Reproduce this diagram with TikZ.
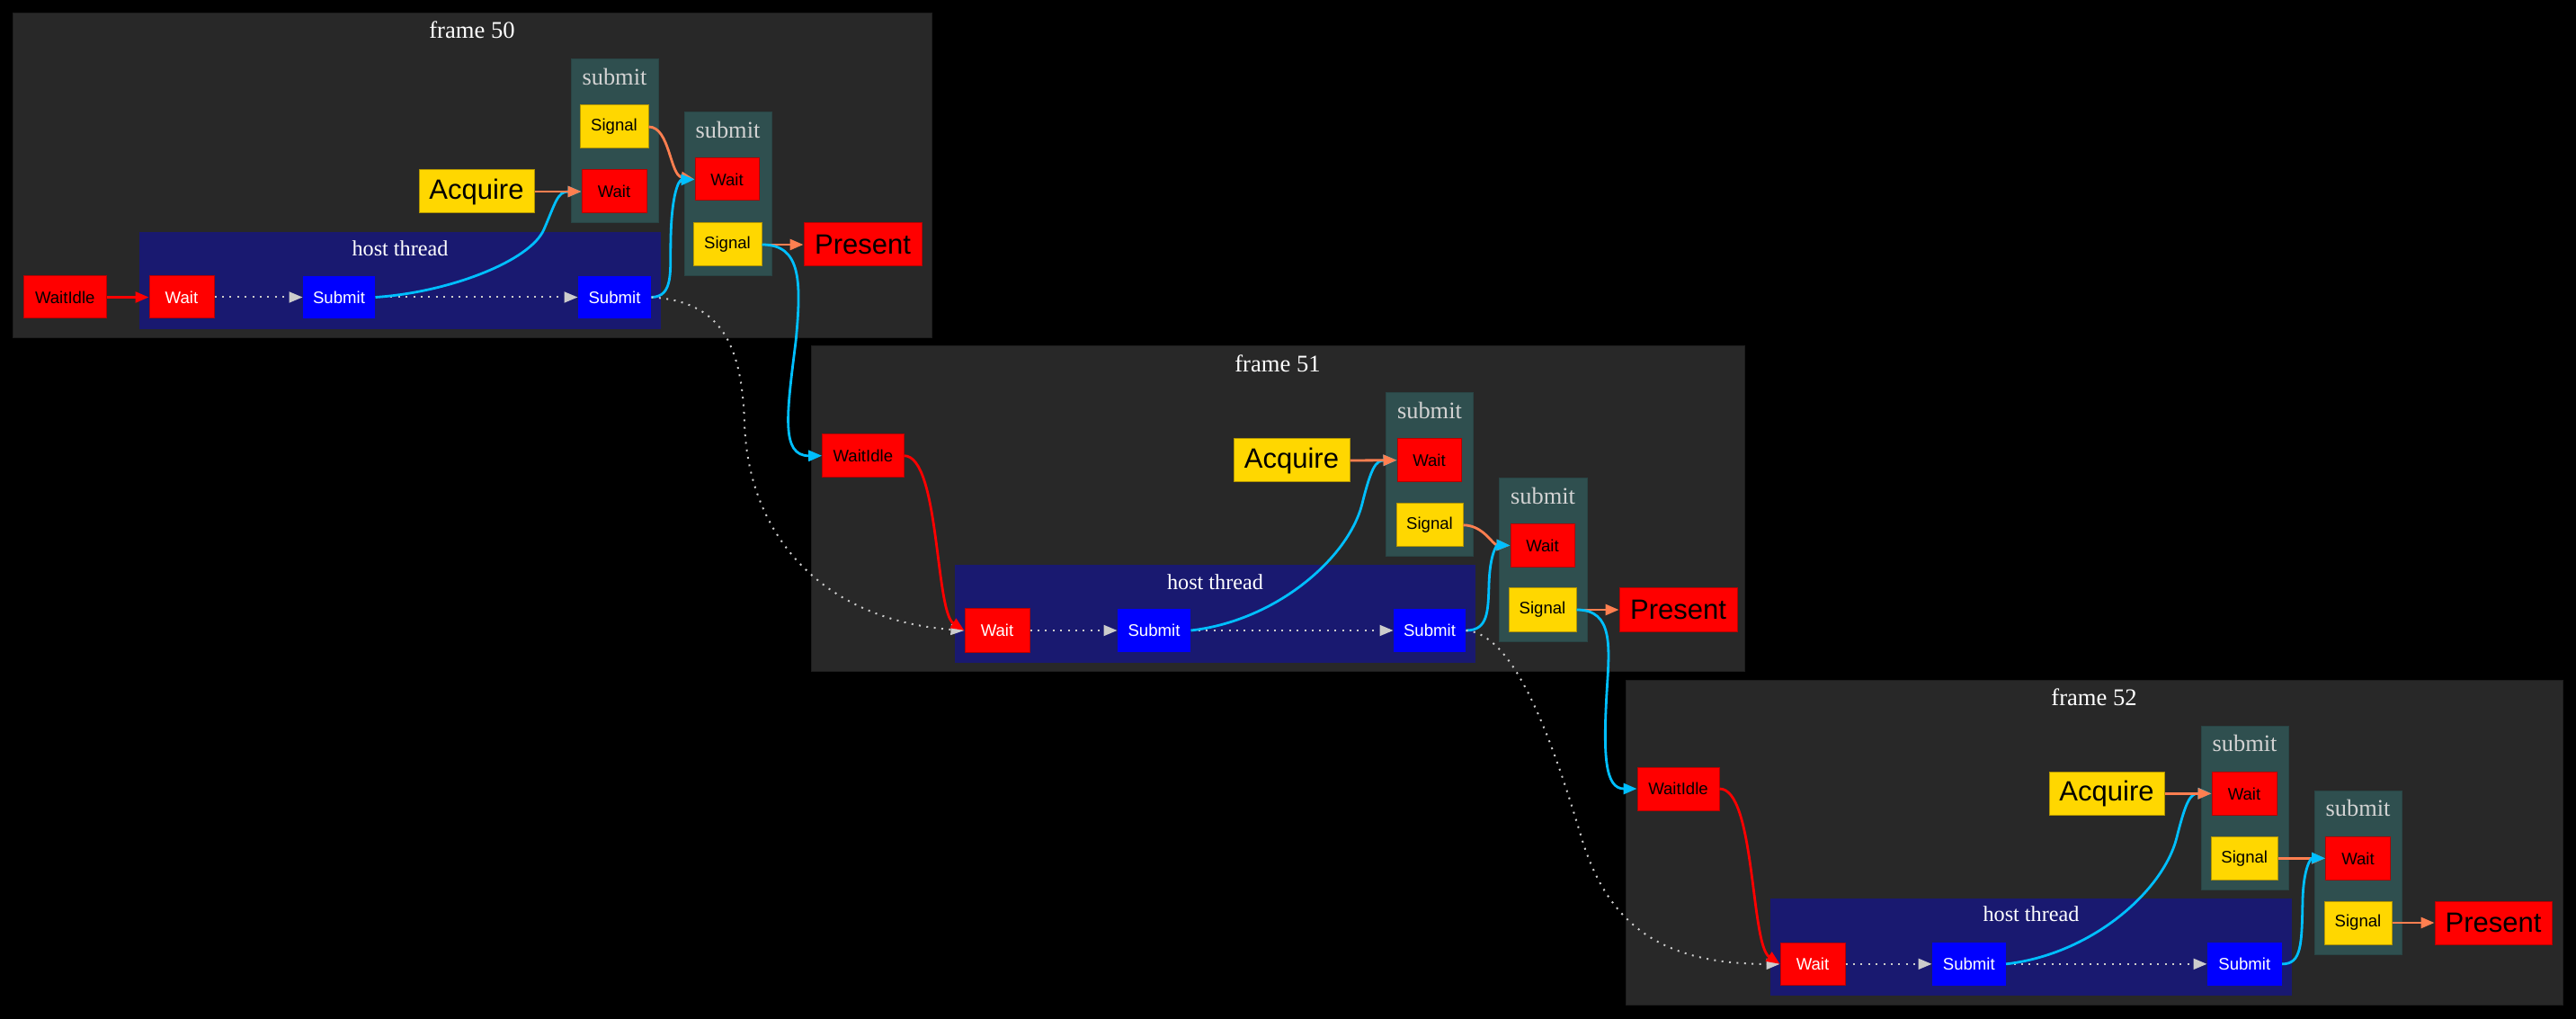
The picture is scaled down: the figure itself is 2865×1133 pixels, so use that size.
\documentclass[tikz,border=0pt]{standalone}
\usepackage{fontspec}
\setmainfont{Liberation Serif}
\newfontfamily\arialf{Liberation Sans}
\usetikzlibrary{arrows.meta}
\definecolor{framefill}{HTML}{282828}
\definecolor{frameline}{HTML}{1E1E1E}
\definecolor{subfill}{HTML}{2F4F4F}
\definecolor{subline}{HTML}{294545}
\definecolor{hostfill}{HTML}{191970}
\definecolor{redfill}{HTML}{FF0000}
\definecolor{redline}{HTML}{B80000}
\definecolor{goldfill}{HTML}{FFD700}
\definecolor{goldline}{HTML}{B39500}
\definecolor{bluefill}{HTML}{0000FF}
\definecolor{coralc}{HTML}{FF7F50}
\definecolor{cyanc}{HTML}{00BFFF}
\definecolor{dotc}{HTML}{CCCCCC}
\definecolor{sublabel}{HTML}{D3D3D3}
\tikzset{
  box/.style={rectangle, inner sep=0pt, line width=0.5pt},
  redbox/.style={box, fill=redfill, draw=redline, text=black, font=\arialf\fontsize{9.3pt}{11pt}\selectfont},
  redwbox/.style={redbox, text=white},
  bigred/.style={redbox, font=\arialf\fontsize{15.5pt}{18pt}\selectfont},
  goldbox/.style={box, fill=goldfill, draw=goldline, text=black, font=\arialf\fontsize{9.3pt}{11pt}\selectfont},
  biggold/.style={goldbox, font=\arialf\fontsize{15.5pt}{18pt}\selectfont},
  bluebox/.style={box, fill=bluefill, text=white, font=\arialf\fontsize{9.3pt}{11pt}\selectfont},
  framebg/.style={fill=framefill, draw=frameline, line width=0.5pt},
  subbg/.style={fill=subfill, draw=subline, line width=0.5pt},
  hostbg/.style={fill=hostfill},
  framelabel/.style={text=white, inner sep=0pt, font=\fontsize{13.3pt}{16pt}\selectfont},
  sublab/.style={text=sublabel, inner sep=0pt, font=\fontsize{13.2pt}{16pt}\selectfont},
  hostlab/.style={text=white, inner sep=0pt, font=\fontsize{12.1pt}{15pt}\selectfont},
  tip/.style={-{Triangle[length=7.5pt,width=6pt]}},
  coralarrow/.style={tip, draw=coralc, line width=1.4pt},
  cyanarrow/.style={tip, draw=cyanc, line width=1.4pt},
  redarrow/.style={tip, draw=redfill, line width=1.4pt},
  dotarrow/.style={tip, draw=dotc, line width=1pt, dash pattern=on 1pt off 3.2pt},
}
\newcommand\bx[7]{\node[#6, minimum width={(#4-#2)*0.5pt}, minimum height={(#5-#3)*0.5pt}] (#1) at ({(#2+#4)/2},{(#3+#5)/2}) {#7};}
\begin{document}
\begin{tikzpicture}[x=0.5pt,y=-0.5pt]
\useasboundingbox (0,0) rectangle (2865,1133);
\fill[black] (0,0) rectangle (2865,1133);

% ---------------- frame 50 ----------------
\path[framebg] (14.6,15) rectangle (1036,376);
\node[framelabel] (t50) at (525,33) {frame 50};
\path[subbg] (635,66) rectangle (732,248);
\node[sublab] (sl50a) at (683.5,85) {submit};
\path[subbg] (761,125) rectangle (858,307);
\node[sublab] (sl50b) at (809.5,144) {submit};
\path[hostbg] (155,258) rectangle (735,366);
\node[hostlab] (hl50) at (445,276.5) {host thread};

\bx{wi50}{26.5}{307}{118}{354}{redbox}{WaitIdle}
\bx{w50h}{166}{307}{238}{354}{redwbox}{Wait}
\bx{s50a}{337}{307}{417}{354}{bluebox}{Submit}
\bx{s50b}{643}{307}{724}{354}{bluebox}{Submit}
\bx{acq50}{466}{189}{594}{237}{biggold}{Acquire}
\bx{sig50a}{645}{117}{721}{165}{goldbox}{Signal}
\bx{w50a}{647}{189}{719}{237}{redbox}{Wait}
\bx{w50b}{773}{176}{844}{223}{redbox}{Wait}
\bx{sig50b}{771}{248}{847}{296}{goldbox}{Signal}
\bx{p50}{894}{248}{1025}{296}{bigred}{Present}

% ---------------- frame 51 ----------------
\path[framebg] (902,385) rectangle (1940,746);
\node[framelabel] (t51) at (1421,404) {frame 51};
\path[subbg] (1541.6,436.7) rectangle (1638.8,619);
\node[sublab] (sl51a) at (1590,456) {submit};
\path[subbg] (1667,531.7) rectangle (1765,713);
\node[sublab] (sl51b) at (1716,551) {submit};
\path[hostbg] (1062,628) rectangle (1641,737);
\node[hostlab] (hl51) at (1351.5,647) {host thread};

\bx{wi51}{914.7}{482.7}{1005}{530.7}{redbox}{WaitIdle}
\bx{w51h}{1073}{677}{1145}{725}{redwbox}{Wait}
\bx{s51a}{1243}{677}{1324}{725}{bluebox}{Submit}
\bx{s51b}{1550}{677}{1630}{725}{bluebox}{Submit}
\bx{acq51}{1372}{488}{1501}{536}{biggold}{Acquire}
\bx{w51a}{1554}{487.7}{1625}{535.7}{redbox}{Wait}
\bx{sig51a}{1553}{560}{1627}{607.7}{goldbox}{Signal}
\bx{w51b}{1680}{582.7}{1751}{630.3}{redbox}{Wait}
\bx{sig51b}{1678}{654}{1753}{702}{goldbox}{Signal}
\bx{p51}{1801}{654}{1932}{702}{bigred}{Present}

% ---------------- frame 52 ----------------
\path[framebg] (1808.8,756.7) rectangle (2850,1117.7);
\node[framelabel] (t52) at (2329,775) {frame 52};
\path[subbg] (2448,807) rectangle (2545,989);
\node[sublab] (sl52a) at (2496.5,826.7) {submit};
\path[subbg] (2574,879) rectangle (2671,1061.7);
\node[sublab] (sl52b) at (2622.5,898) {submit};
\path[hostbg] (1969,999) rectangle (2548.5,1107);
\node[hostlab] (hl52) at (2259,1016.7) {host thread};

\bx{wi52}{1821}{853}{1912}{901}{redbox}{WaitIdle}
\bx{w52h}{1980}{1048}{2052}{1095.7}{redwbox}{Wait}
\bx{s52a}{2149}{1048}{2230.6}{1095.7}{bluebox}{Submit}
\bx{s52b}{2455}{1048}{2537.6}{1095.7}{bluebox}{Submit}
\bx{acq52}{2279}{858}{2407}{906.7}{biggold}{Acquire}
\bx{w52a}{2460}{858}{2532}{906.7}{redbox}{Wait}
\bx{sig52a}{2459}{930.7}{2533.5}{978}{goldbox}{Signal}
\bx{w52b}{2586.5}{930.7}{2658.5}{978}{redbox}{Wait}
\bx{sig52b}{2585}{1002}{2660}{1050}{goldbox}{Signal}
\bx{p52}{2708}{1002}{2838}{1050}{bigred}{Present}

% ---------------- edges frame 50 ----------------
\draw[redarrow] (wi50.east) -- (w50h.west);
\draw[dotarrow] (w50h.east) -- (s50a.west);
\draw[dotarrow] (s50a.east) -- (s50b.west);
\draw[cyanarrow] (s50a.east) .. controls (500,325) and (590,290) .. (605,255) .. controls (618,225) and (620,213) .. (w50a.west);
\draw[coralarrow] (acq50.east) -- (w50a.west);
\draw[coralarrow] (sig50a.east) .. controls (745,141) and (745,195) .. (w50b.west);
\draw[cyanarrow] (s50b.east) .. controls (750,330) and (745,300) .. (746,265) .. controls (747,215) and (755,200) .. (w50b.west);
\draw[coralarrow] (sig50b.east) -- (p50.west);
\draw[cyanarrow] (sig50b.east) .. controls (890,272) and (892,310) .. (885,380) .. controls (875,460) and (868,507) .. (wi51.west);
\draw[dotarrow] (s50b.east) .. controls (800,335) and (825,380) .. (828,470) .. controls (832,600) and (920,690) .. (w51h.west);

% ---------------- edges frame 51 ----------------
\draw[redarrow] (wi51.east) .. controls (1045,507) and (1040,680) .. (w51h.west);
\draw[dotarrow] (w51h.east) -- (s51a.west);
\draw[dotarrow] (s51a.east) -- (s51b.west);
\draw[cyanarrow] (s51a.east) .. controls (1420,690) and (1500,620) .. (1515,560) .. controls (1525,520) and (1530,512) .. (w51a.west);
\draw[coralarrow] (acq51.east) -- (w51a.west);
\draw[coralarrow] (sig51a.east) .. controls (1650,584) and (1660,606) .. (w51b.west);
\draw[cyanarrow] (s51b.east) .. controls (1655,701) and (1655,680) .. (1656,650) .. controls (1657,615) and (1665,606) .. (w51b.west);
\draw[coralarrow] (sig51b.east) -- (p51.west);
\draw[cyanarrow] (sig51b.east) .. controls (1795,678) and (1790,720) .. (1787,770) .. controls (1783,840) and (1785,877) .. (wi52.west);
\draw[dotarrow] (s51b.east) .. controls (1680,705) and (1720,800) .. (1760,935) .. controls (1790,1030) and (1850,1072) .. (w52h.west);

% ---------------- edges frame 52 ----------------
\draw[redarrow] (wi52.east) .. controls (1952,877) and (1947,1050) .. (w52h.west);
\draw[dotarrow] (w52h.east) -- (s52a.west);
\draw[dotarrow] (s52a.east) -- (s52b.west);
\draw[cyanarrow] (s52a.east) .. controls (2326,1061) and (2406,991) .. (2421,931) .. controls (2431,891) and (2436,882) .. (w52a.west);
\draw[coralarrow] (acq52.east) -- (w52a.west);
\draw[coralarrow] (sig52a.east) -- (w52b.west);
\draw[cyanarrow] (s52b.east) .. controls (2560,1072) and (2560,1050) .. (2561,1000) .. controls (2562,965) and (2570,954) .. (w52b.west);
\draw[coralarrow] (sig52b.east) -- (p52.west);
\end{tikzpicture}
\end{document}
